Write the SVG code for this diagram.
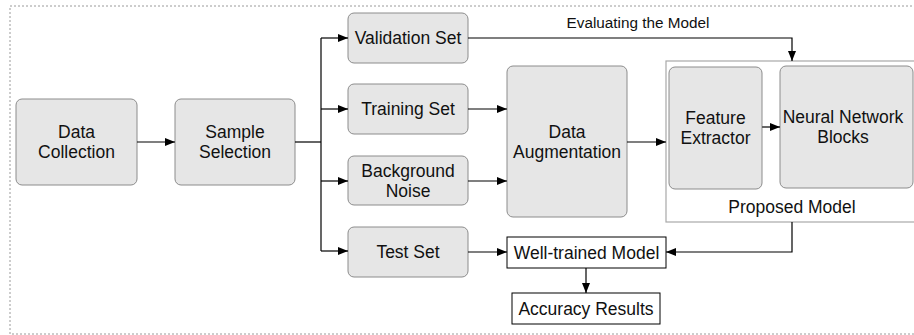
<svg xmlns="http://www.w3.org/2000/svg" width="914" height="335" viewBox="0 0 914 335">
<style>
.n{fill:#e6e6e6;stroke:#8c8c8c;stroke-width:1}
.w{fill:#fff;stroke:#000;stroke-width:1}
.t{font-family:"Liberation Sans",Arial,sans-serif;font-size:17.5px;fill:#111;text-anchor:middle}
.s{font-family:"Liberation Sans",Arial,sans-serif;font-size:15.3px;fill:#111;text-anchor:middle}
.c{fill:none;stroke:#000;stroke-width:1.2}
</style>
<defs>
<marker id="a" viewBox="0 0 10 8" refX="10" refY="4" markerWidth="10" markerHeight="8" markerUnits="userSpaceOnUse" orient="auto">
<path d="M0,0L10,4L0,8z" fill="#000"/>
</marker>
</defs>
<rect x="10" y="6" width="912" height="328" fill="none" stroke="#9a9a9a" stroke-width="1" stroke-dasharray="2,2"/>
<g id="proposed">
<rect x="666" y="61" width="260" height="161" fill="#fff" stroke="#a8a8a8" stroke-width="1.2"/>
<text class="t" x="792" y="213">Proposed Model</text>
</g>
<g id="data-collection">
<rect class="n" x="16" y="99" width="121" height="86" rx="6"/>
<text class="t" x="76.5" y="138">Data</text>
<text class="t" x="76.5" y="158">Collection</text>
</g>
<g id="sample-selection">
<rect class="n" x="175" y="99" width="120" height="86" rx="6"/>
<text class="t" x="235" y="138">Sample</text>
<text class="t" x="235" y="158">Selection</text>
</g>
<g id="validation">
<rect class="n" x="348" y="13" width="120" height="50" rx="6"/>
<text class="t" x="408" y="44">Validation Set</text>
</g>
<g id="training">
<rect class="n" x="348" y="84" width="120" height="50" rx="6"/>
<text class="t" x="408" y="115">Training Set</text>
</g>
<g id="background">
<rect class="n" x="348" y="156" width="120" height="49" rx="6"/>
<text class="t" x="408" y="177">Background</text>
<text class="t" x="408" y="197">Noise</text>
</g>
<g id="test">
<rect class="n" x="348" y="227" width="120" height="50" rx="6"/>
<text class="t" x="408" y="258">Test Set</text>
</g>
<g id="augmentation">
<rect class="n" x="507" y="66" width="120" height="151" rx="6"/>
<text class="t" x="567" y="138">Data</text>
<text class="t" x="567" y="158">Augmentation</text>
</g>
<g id="feature">
<rect class="n" x="669" y="67" width="93" height="122" rx="6"/>
<text class="t" x="715.5" y="124">Feature</text>
<text class="t" x="715.5" y="144">Extractor</text>
</g>
<g id="nnb">
<rect class="n" x="780" y="66" width="133" height="122" rx="6"/>
<text class="t" x="843" y="123">Neural Network</text>
<text class="t" x="843" y="143">Blocks</text>
</g>
<g id="well-trained">
<rect class="w" x="507" y="237" width="159" height="31"/>
<text class="t" x="586.5" y="259">Well-trained Model</text>
</g>
<g id="accuracy">
<rect class="w" x="512" y="293" width="148" height="31"/>
<text class="t" x="586" y="315">Accuracy Results</text>
</g>
<g id="connectors">
<path class="c" d="M137,142H175" marker-end="url(#a)"/>
<path class="c" d="M295,142H321"/>
<path class="c" d="M321,38V251"/>
<path class="c" d="M321,38H348" marker-end="url(#a)"/>
<path class="c" d="M321,109H348" marker-end="url(#a)"/>
<path class="c" d="M321,181H348" marker-end="url(#a)"/>
<path class="c" d="M321,251H348" marker-end="url(#a)"/>
<path class="c" d="M468,109H507" marker-end="url(#a)"/>
<path class="c" d="M468,181H507" marker-end="url(#a)"/>
<path class="c" d="M627,142H666" marker-end="url(#a)"/>
<path class="c" d="M762,127H780" marker-end="url(#a)"/>
<path class="c" d="M468,38H792V61" marker-end="url(#a)"/>
<text class="s" x="638" y="28">Evaluating the Model</text>
<path class="c" d="M468,252H507" marker-end="url(#a)"/>
<path class="c" d="M792,222V252H666" marker-end="url(#a)"/>
<path class="c" d="M586,268V293" marker-end="url(#a)"/>
</g>
</svg>
